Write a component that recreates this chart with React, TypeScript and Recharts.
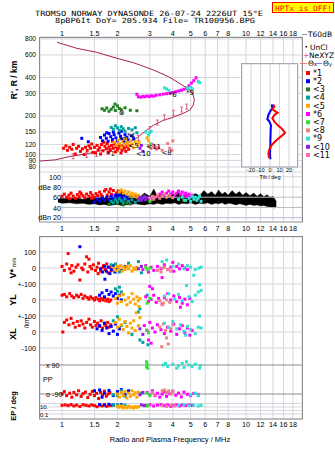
import React from 'react';
import { ScatterChart, ComposedChart, Scatter, Area, XAxis, YAxis, CartesianGrid, ReferenceLine } from 'recharts';

const W = 335;
const H = 451;

const freqTicks = [1, 1.5, 2, 3, 4, 5, 6, 7, 8, 10, 12, 14, 16, 18];
const heightTicks = [80, 90, 100, 120, 150, 200, 300, 400, 600, 800];
const tiltTicks = [-20, -10, 0, 10, 20];
const ampTicks = [20, 40, 60, 80, 100];

const seriesNames = ['*1', '*2', '<3', '<4', '<5', '*6', '<7', '<8', '*9', '<10', '<11'];
const seriesColors = ['#ff0000', '#0000ff', '#208020', '#00a0a0', '#ffa500', '#ff00ff', '#33e033', '#f08080', '#30e0d0', '#9020e0', '#ff69b4'];

// virtual height R' (km) vs frequency (MHz), one list per echo class
const echoHeight: number[][][] = [
  [[1.02, 112], [1.05, 117], [1.07, 108], [1.1, 114], [1.13, 110], [1.15, 120], [1.18, 101], [1.2, 112], [1.23, 116], [1.26, 106], [1.29, 111], [1.32, 100], [1.34, 114], [1.37, 108], [1.4, 117], [1.43, 112], [1.45, 121], [1.47, 104], [1.5, 114], [1.52, 103], [1.55, 118], [1.57, 109], [1.6, 113], [1.62, 101], [1.64, 120], [1.67, 107], [1.69, 125], [1.71, 116], [1.74, 111], [1.76, 122], [1.78, 104], [1.8, 115], [1.83, 108], [1.86, 118], [1.88, 127], [1.9, 112], [1.93, 121], [1.95, 105], [1.97, 115], [2.0, 110], [2.03, 119], [2.06, 113], [2.09, 103], [2.12, 108], [2.15, 117], [2.18, 112], [2.22, 106], [2.26, 115], [2.3, 110], [2.34, 118]],
  [[1.28, 134], [1.39, 126], [1.62, 136], [1.66, 128], [1.7, 142], [1.74, 134], [1.75, 148], [1.78, 127], [1.8, 146], [1.84, 138], [1.88, 131], [1.9, 150], [1.92, 143], [1.96, 135], [2.0, 128], [2.04, 147], [2.08, 139], [2.1, 152], [2.12, 132], [2.16, 126], [2.2, 143], [2.25, 136], [2.3, 130], [2.38, 140], [2.45, 133]],
  [[1.65, 228], [1.7, 222], [1.75, 231], [1.8, 218], [1.85, 226], [1.9, 235], [1.94, 248], [1.95, 221], [2.0, 240], [2.05, 229], [2.1, 224], [2.2, 232], [2.35, 222], [2.55, 220]],
  [[1.85, 163], [1.9, 158], [1.95, 168], [2.0, 162], [2.05, 155], [2.1, 165], [2.15, 159], [2.2, 152], [2.3, 160], [2.4, 156], [2.5, 162], [2.55, 148]],
  [[1.92, 125], [1.98, 118], [2.02, 130], [2.06, 122], [2.1, 114], [2.14, 127], [2.18, 120], [2.22, 133], [2.26, 124], [2.3, 117], [2.35, 128], [2.4, 121], [2.45, 113], [2.5, 126], [2.58, 119], [2.62, 124], [2.9, 135], [2.95, 128]],
  [[2.55, 296], [2.6, 283], [2.68, 281], [2.75, 285], [2.82, 283], [2.9, 287], [2.98, 284], [3.05, 288], [3.15, 286], [3.25, 291], [3.4, 293], [3.55, 297], [3.7, 299], [3.85, 302], [4.0, 306], [4.15, 310], [4.3, 314], [4.45, 318], [4.6, 324], [4.75, 330], [4.9, 345], [5.05, 362], [5.2, 378], [5.35, 398]],
  [[3.0, 117], [3.05, 121]],
  [[2.95, 118], [3.05, 112], [3.15, 116], [3.25, 110], [3.35, 114], [3.5, 108], [3.75, 122], [3.85, 112], [3.95, 108], [4.0, 128]],
  [[2.85, 150], [2.95, 142], [3.0, 148], [3.05, 152], [3.6, 332], [3.7, 326], [3.8, 318], [4.8, 330], [5.0, 336], [5.1, 326], [5.5, 372], [5.6, 365]],
  [[2.65, 112], [2.7, 118], [2.75, 106]],
  [[3.1, 120], [3.2, 116], [3.3, 112]],
];

// echo amplitude (dB) vs frequency
const echoAmp: number[][][] = [
  [[1.0, 62], [1.03, 66], [1.06, 60], [1.09, 64], [1.1, 57], [1.12, 68], [1.15, 62], [1.18, 58], [1.21, 65], [1.24, 61], [1.25, 70], [1.27, 67], [1.3, 63], [1.33, 59], [1.36, 66], [1.4, 62], [1.43, 69], [1.45, 58], [1.46, 64], [1.5, 60], [1.53, 67], [1.56, 63], [1.6, 70], [1.63, 65], [1.66, 61], [1.7, 72], [1.73, 75], [1.76, 64], [1.8, 70], [1.83, 76], [1.86, 66], [1.9, 73], [1.94, 63], [1.98, 68], [2.02, 72]],
  [[1.5, 50], [1.55, 56], [1.6, 52], [1.65, 58], [1.7, 54], [1.75, 60], [1.8, 55], [1.85, 62], [1.9, 57], [1.95, 64], [2.0, 59], [2.05, 66], [2.1, 61], [2.15, 56], [2.2, 63], [2.25, 58], [2.3, 54]],
  [[1.8, 46], [2.0, 48], [2.15, 45], [2.25, 49], [2.35, 47]],
  [[1.85, 52], [1.9, 49], [1.95, 55], [2.0, 51], [2.05, 57], [2.1, 53], [2.15, 50], [2.2, 56], [2.3, 52], [2.4, 55], [2.5, 50], [2.6, 54]],
  [[2.05, 70], [2.1, 74], [2.15, 68], [2.2, 72], [2.25, 66], [2.3, 70], [2.35, 64], [2.4, 68], [2.45, 62], [2.5, 66], [2.55, 60], [2.6, 64]],
  [[3.3, 62], [3.4, 66], [3.5, 70], [3.6, 64], [3.7, 68], [3.8, 72], [3.9, 66], [4.0, 70], [4.1, 64], [4.2, 68], [4.3, 72], [4.4, 66], [4.5, 70], [4.6, 64], [4.7, 68], [4.8, 62], [4.9, 66], [5.0, 60], [5.1, 64]],
  [[3.0, 52], [3.05, 55], [4.6, 54]],
  [[3.2, 60], [3.3, 64], [3.4, 58], [3.5, 62], [3.6, 66], [3.7, 60], [3.85, 63], [4.0, 59]],
  [[4.3, 56], [4.5, 60], [4.7, 54], [4.9, 58], [5.0, 52], [5.1, 62], [5.2, 56], [5.3, 60], [5.4, 54], [5.5, 58], [5.6, 62], [5.7, 52]],
  [[2.6, 56], [2.65, 60], [2.7, 54], [2.75, 58], [2.8, 62], [2.85, 55], [2.9, 59]],
  [[3.0, 58], [3.1, 62], [3.15, 56]],
];

// background noise band: [freq, low dB, high dB]
const noiseBand = [
  [0.95, 50, 56], [1.0, 48, 58], [1.1, 49, 57], [1.2, 47, 59], [1.3, 48, 56], [1.4, 46, 60], [1.5, 47, 58], [1.6, 45, 61], [1.7, 46, 59], [1.8, 44, 62], [1.9, 45, 60], [2.0, 46, 66], [2.1, 44, 72], [2.2, 45, 64], [2.35, 46, 62], [2.5, 47, 65], [2.65, 46, 60], [2.8, 45, 68], [3.0, 47, 62], [3.15, 46, 76], [3.3, 48, 63], [3.5, 46, 66], [3.7, 48, 61], [3.9, 47, 68], [4.1, 49, 64], [4.3, 46, 70], [4.5, 48, 62], [4.8, 47, 66], [5.0, 49, 61], [5.3, 46, 67], [5.6, 48, 63], [5.9, 47, 73], [6.2, 49, 66], [6.5, 46, 71], [6.8, 48, 64], [7.1, 47, 74], [7.4, 49, 66], [7.7, 46, 70], [8.0, 48, 64], [8.4, 47, 73], [8.8, 45, 66], [9.2, 47, 71], [9.6, 46, 64], [10.0, 44, 69], [10.5, 46, 63], [11.0, 44, 68], [11.5, 45, 62], [12.0, 43, 67], [12.5, 44, 61], [13.0, 42, 65], [13.5, 41, 60], [14.0, 40, 62], [14.3, 39, 57], [14.6, 40, 52],
];

// V* (m/s)
const echoVstar: number[][][] = [
  [[1.0, 10], [1.03, -15], [1.06, 25], [1.08, 90], [1.1, -5], [1.12, -30], [1.13, 15], [1.16, -20], [1.19, 5], [1.22, 20], [1.25, -75], [1.28, 0], [1.3, -10], [1.33, 25], [1.36, 70], [1.38, -25], [1.4, 55], [1.42, 10], [1.45, -5], [1.48, 20], [1.52, -15], [1.55, 5], [1.57, -35], [1.58, 30], [1.62, -20], [1.65, 0], [1.68, 15], [1.72, -10], [1.75, 25], [1.78, -30], [1.82, 5], [1.85, -15]],
  [[1.25, 133], [1.62, -5], [1.66, -25], [1.7, 10], [1.74, -20], [1.78, 5], [1.82, -35], [1.86, -10], [1.9, 15], [1.94, -25], [2.0, 0], [2.1, -15], [2.2, 10]],
  [],
  [[1.85, 20], [1.95, 25], [2.05, -25], [2.3, 30], [2.6, 40], [2.7, -30]],
  [[1.92, 0], [1.96, -15], [2.0, 10], [2.04, -5], [2.08, 15], [2.12, -20], [2.16, 5], [2.2, -10], [2.25, 10], [2.3, -5], [2.35, 15], [2.4, -20], [2.45, 0], [2.5, -10], [2.55, 5]],
  [[2.75, -10], [2.85, 15], [2.95, -25], [3.05, 5], [3.15, -15], [3.3, 10], [3.45, -5], [3.5, -60], [3.6, 20], [3.75, -10], [3.9, 5], [4.0, 35], [4.05, -20], [4.2, 10], [4.35, -5], [4.5, 15], [4.65, 0], [4.8, -10]],
  [[2.85, 5], [2.9, -10], [3.0, 0]],
  [[3.3, -15], [3.45, -25], [3.5, 0], [3.6, 5], [3.75, -10], [3.9, -20]],
  [[3.5, 40], [3.7, 50], [4.0, 10], [4.3, 25], [4.6, -5], [4.8, 15], [5.0, 5], [5.2, -45], [5.3, -10], [5.55, 0], [5.7, 5]],
  [[2.6, -5], [2.7, 10]],
  [],
];

// YL (/km)
const echoYL: number[][][] = [
  [[1.0, 30], [1.03, 35], [1.06, 20], [1.1, 40], [1.13, 25], [1.16, 15], [1.2, 30], [1.23, 20], [1.27, 35], [1.3, 10], [1.33, 25], [1.37, 15], [1.4, 5], [1.43, 20], [1.47, 10], [1.5, 0], [1.53, 15], [1.57, 5], [1.6, -5], [1.63, 10], [1.67, 0], [1.7, 15], [1.73, -5], [1.77, 5], [1.8, -10], [1.84, 0]],
  [[1.71, 130], [1.6, 30], [1.65, 45], [1.7, 20], [1.75, 60], [1.8, 35], [1.85, 50], [1.9, 25], [1.95, 40], [2.0, 10], [2.05, 30], [2.1, 0]],
  [],
  [[1.95, 70], [2.0, 55], [2.05, 80], [2.1, 50], [2.6, -75], [2.65, -55], [2.9, 30]],
  [[1.95, 10], [2.0, -20], [2.05, 25], [2.1, -10], [2.15, 35], [2.2, 0], [2.25, -30], [2.3, 15], [2.35, -15], [2.4, 40], [2.45, 5], [2.5, -25], [2.55, 20], [2.6, -5], [2.62, -40], [2.65, 10]],
  [[2.85, 20], [2.95, -10], [3.0, 85], [3.05, 5], [3.1, 70], [3.15, 30], [3.25, -15], [3.35, 10], [3.5, -25], [3.6, 15], [3.75, 40], [3.9, 0], [4.05, 25], [4.2, -10], [4.35, 15], [4.4, -45], [4.5, -20], [4.65, 5], [4.8, -30], [4.95, 10]],
  [[2.9, -20], [3.0, 10]],
  [[3.4, -5], [3.5, -30], [3.55, -20], [3.7, 0], [3.85, -15]],
  [[3.6, 25], [3.8, 40], [4.1, 5], [4.3, 35], [4.5, -5], [4.75, 90], [4.9, 20], [5.1, -10], [5.3, 30], [5.5, 50], [5.6, 95], [5.7, 60]],
  [],
  [],
];

// XL (/km)
const echoXL: number[][][] = [
  [[1.01, 0], [1.03, 60], [1.06, 75], [1.09, 45], [1.12, 85], [1.15, 55], [1.18, 30], [1.21, 65], [1.24, 40], [1.27, 70], [1.3, 50], [1.33, 25], [1.36, 60], [1.4, 80], [1.43, 45], [1.46, 30], [1.5, 65], [1.53, 40], [1.56, 55], [1.6, 35], [1.63, 70], [1.66, 25], [1.7, 50], [1.73, 40], [1.77, 60], [1.8, 30], [1.84, 45]],
  [[1.55, 20], [1.6, 40], [1.65, 10], [1.7, 55], [1.75, 25], [1.8, -10], [1.85, 35], [1.9, 5], [1.95, 50], [2.0, -15], [2.05, 20]],
  [],
  [[1.9, 70], [2.0, 95], [2.1, 40], [2.2, 60], [2.4, -15], [2.65, -50], [2.75, -65], [2.93, -80]],
  [[1.95, 60], [2.0, 30], [2.05, 80], [2.1, 45], [2.15, 15], [2.2, 65], [2.25, 35], [2.3, -5], [2.35, 55], [2.4, 25], [2.45, 70], [2.5, 10], [2.53, 120], [2.6, 40], [2.65, 90]],
  [[2.8, 40], [2.9, 10], [2.95, -50], [3.0, 60], [3.05, -70], [3.1, 25], [3.2, 0], [3.3, 45], [3.45, 15], [3.6, -10], [3.75, 30], [3.9, 5], [4.05, 50], [4.2, -15], [4.35, 20], [4.5, 40], [4.65, -5], [4.8, 25], [4.95, -20], [5.1, 10]],
  [[2.88, 12], [2.95, -5]],
  [[3.4, 30], [3.48, -92], [3.55, 50], [3.65, 10], [3.7, -37], [3.78, -75], [3.9, 20], [4.0, 45]],
  [[3.6, 55], [3.8, 30], [4.0, 65], [4.2, 20], [4.4, 45], [4.6, 5], [4.7, -20], [4.8, 35], [5.0, 15], [5.3, -10], [5.5, 30], [5.6, 100], [5.7, 25]],
  [[2.65, 20], [2.75, -15]],
  [],
];

// x-mode polarization (deg)
const echoX90: number[][][] = [
  [], [], [], [], [], [],
  [[2.88, 80], [2.9, 95], [2.88, 110], [2.92, 70]],
  [],
  [[3.55, 90], [3.65, 100], [3.75, 80], [4.0, 95], [4.2, 70], [4.3, 85], [4.5, 100], [4.6, 75], [4.75, 110], [4.9, 90], [5.1, 80], [5.3, 95], [5.6, 70], [5.65, 88]],
  [], [],
];

// o-mode polarization (deg)
const echoPP: number[][][] = [
  [[1.0, -90], [1.03, -75], [1.06, -100], [1.1, -85], [1.13, -110], [1.16, -80], [1.2, -95], [1.23, -70], [1.27, -105], [1.3, -88], [1.34, -78], [1.38, -112], [1.42, -92], [1.46, -74], [1.5, -100], [1.54, -86], [1.58, -118], [1.62, -80], [1.66, -96], [1.7, -72], [1.74, -104], [1.78, -90], [1.82, -82]],
  [[1.5, -70], [1.6, -65], [1.65, -110], [1.7, -85], [1.8, -68], [1.9, -100], [2.0, -75], [2.1, -62], [2.2, -95], [2.3, -70]],
  [],
  [[1.9, -95], [2.0, -100], [2.1, -68], [2.2, -105], [2.7, -85]],
  [[2.0, -90], [2.05, -110], [2.1, -80], [2.15, -100], [2.2, -75], [2.25, -115], [2.3, -85], [2.35, -105], [2.4, -70], [2.45, -95], [2.5, -82], [2.55, -110], [2.6, -78]],
  [[2.9, -80], [3.0, -95], [3.1, -70], [3.2, -100], [3.3, -85], [3.4, -110], [3.5, -90], [3.6, -75], [3.7, -105], [3.85, -88], [4.0, -72], [4.15, -98], [4.3, -84], [4.45, -108], [4.6, -78], [4.8, -92], [5.0, -100], [5.2, -86], [5.5, -95]],
  [[2.9, -85], [3.0, -100]],
  [[3.5, -70], [3.6, -65], [3.7, -80], [3.8, -70], [3.9, -90], [4.0, -75]],
  [[5.0, -95], [5.3, -85], [5.5, -100]],
  [[2.65, -95], [2.75, -80]],
  [[3.1, -80], [3.2, -95]],
];

// EP (deg)
const echoEP: number[][][] = [
  [[1.0, 30], [1.04, 40], [1.08, 25], [1.12, 50], [1.16, 20], [1.2, 35], [1.25, 15], [1.3, 45], [1.35, 30], [1.4, 20], [1.45, 40], [1.5, 25], [1.55, 12], [1.6, 35], [1.65, 20], [1.7, 45], [1.75, 15], [1.8, 30], [1.85, 25]],
  [[1.6, 50], [1.7, 35], [1.8, 60], [1.9, 40], [2.0, 25], [2.1, 45]],
  [],
  [[1.9, 30], [2.0, 45], [2.1, 20], [2.2, 35]],
  [[2.0, 15], [2.05, 8], [2.1, 20], [2.15, 5], [2.2, 12], [2.25, 6], [2.3, 18], [2.35, 7], [2.4, 10], [2.45, 5], [2.5, 14], [2.55, 8], [2.6, 12]],
  [[2.85, 30], [3.0, 45], [3.15, 20], [3.3, 35], [3.45, 50], [3.6, 25], [3.75, 40], [3.9, 15], [4.05, 30], [4.2, 45], [4.35, 20], [4.5, 35], [4.7, 25], [4.9, 40], [5.1, 30]],
  [[2.9, 20], [2.95, 35]],
  [[3.5, 25], [3.7, 15], [3.9, 35], [4.1, 20]],
  [[4.3, 30], [4.6, 40], [4.9, 25], [5.2, 35], [5.5, 20], [5.7, 30]],
  [[2.7, 40], [2.8, 25]],
  [],
];

// true height profile (freq, km)
const profile = [
  [0.76, 89], [0.92, 91], [1.08, 96], [1.39, 102], [1.86, 112], [2.2, 120], [2.5, 132], [2.83, 152], [3.15, 170], [3.55, 185], [4.03, 196], [4.56, 210], [4.96, 223], [5.17, 244], [5.24, 270], [5.15, 295], [4.96, 320], [4.38, 358], [3.8, 405], [3.14, 458], [2.65, 501], [2.44, 522], [1.98, 566], [1.54, 630], [1.2, 677], [0.94, 754],
];
const neXYZ = [
  [1.15, 97], [1.36, 99], [1.54, 101], [1.78, 105], [2.0, 110], [2.25, 119], [2.6, 135], [3.0, 158], [3.3, 178], [3.6, 195], [4.03, 212], [4.47, 225], [4.76, 237],
];
const echoTags = [
  { f: 1.82, h: 102, t: '*1' }, { f: 2.12, h: 133, t: '*2' }, { f: 2.34, h: 143, t: '*4' }, { f: 2.38, h: 118, t: '<5' },
  { f: 2.11, h: 214, t: '⊗' }, { f: 2.62, h: 103, t: '<10' }, { f: 2.98, h: 116, t: '<11' }, { f: 3.6, h: 104, t: '<8' },
  { f: 3.95, h: 296, t: '*6' }, { f: 4.9, h: 310, t: '*9' },
];

// tilt (deg, km)
const tiltX = [[3.5, 247], [4.6, 237], [2.5, 226], [8, 212], [4.6, 204], [2.5, 192], [4.6, 181], [8, 170], [12.3, 160], [15.8, 148], [12.3, 140], [7, 130], [1.8, 119], [-0.7, 110], [-1.7, 102], [-1, 94]];
const tiltY = [[1.8, 247], [2.5, 230], [0, 216], [-1.7, 204], [-2.8, 189], [-0.7, 181], [1, 170], [0.7, 151], [0.4, 130], [0.4, 115], [0, 102], [0.4, 92]];

// lower panel rows share one pixel-like axis (0..182)
const vRow = (v: number) => 151 + v * 0.16;
const ylRow = (v: number) => 119 + v * 0.16;
const xlRow = (v: number) => 87 + v * 0.16;
const x90Row = (v: number) => 54 + (v - 90) * 0.16;
const ppRow = (v: number) => 25 + (v + 90) * 0.16;
const epRow = (v: number) => 12 + (Math.log10(v) - 1) * 3.5;

const lowerTicks = [
  { u: vRow(100), label: '100' }, { u: vRow(0), label: '0' }, { u: vRow(-100), label: '+-100' },
  { u: ylRow(0), label: '0' }, { u: ylRow(-100), label: '+-100' }, { u: xlRow(0), label: '0' },
  { u: xlRow(-100), label: '-100' }, { u: epRow(100), label: '' }, { u: epRow(10), label: '' },
  { u: epRow(1), label: '' }, { u: epRow(0.1), label: '' },
];

const pts = (arr: number[][]) => arr.map(([x, y]) => ({ x, y }));
const rowPts = (arr: number[][], fn: (v: number) => number) => arr.map(([x, y]) => ({ x, y: fn(y) }));

const Square = (props: any) => {
  const { cx, cy, fill } = props;
  if (cx == null || cy == null) return <g />;
  return <rect x={cx - 1.5} y={cy - 1.5} width={3} height={3} fill={fill} />;
};
const NoDot = () => <g />;
const IBeam = (props: any) => {
  const { cx, cy } = props;
  return (
    <g stroke="#e0608c" strokeWidth={1}>
      <line x1={cx} y1={cy - 2.5} x2={cx} y2={cy + 2.5} />
      <line x1={cx - 1.5} y1={cy - 2.5} x2={cx + 1.5} y2={cy - 2.5} />
      <line x1={cx - 1.5} y1={cy + 2.5} x2={cx + 1.5} y2={cy + 2.5} />
    </g>
  );
};
const Tag = (props: any) => (
  <text x={props.cx - 3} y={props.cy + 3} fontSize={7} fontFamily="DejaVu Sans" fill="#000">{props.payload.t}</text>
);

const tickFont = { fontSize: 7.2, fill: '#000', fontFamily: 'Liberation Sans, Arial, sans-serif' };
const gridColor = '#d6d6de';
const freqDomain = [0.759, 20.15];
const abs = (l: number, t: number): React.CSSProperties => ({ position: 'absolute', left: l, top: t });

export default function App() {
  return (
    <div style={{ position: 'absolute', left: 0, top: 0, width: W, height: H, background: '#fff', overflow: 'hidden' }}>
      {/* amplitude panel */}
      <div style={abs(0, 0)}>
        <ComposedChart width={W} height={H} data={noiseBand.map(([x, lo, hi]) => ({ x, y: [lo, hi] }))} margin={{ top: 172, right: 33, bottom: 215, left: 40 }}>
          <CartesianGrid stroke={gridColor} horizontal={false} />
          <XAxis type="number" dataKey="x" scale="log" domain={freqDomain} allowDataOverflow ticks={freqTicks} interval={0} height={14} axisLine={false} tickLine={false} tickSize={0} tickMargin={4} tick={tickFont} />
          <YAxis type="number" dataKey="y" domain={[11.6, 109.2]} allowDataOverflow hide />
          {ampTicks.map((a) => (
            <ReferenceLine key={a} segment={[{ x: 0.985, y: a }, { x: 20.15, y: a }]} stroke={a === 20 ? '#b4b4e6' : a <= 60 ? '#b8b8c0' : gridColor} />
          ))}
          <Area dataKey="y" type="linear" stroke="#000" strokeWidth={0.4} fill="#000" fillOpacity={1} dot={false} activeDot={false} isAnimationActive={false} />
          {echoAmp.map((s, i) => (
            <Scatter key={i} data={pts(s)} fill={seriesColors[i]} shape={Square} isAnimationActive={false} />
          ))}
        </ComposedChart>
      </div>

      {/* lower panel */}
      <div style={abs(0, 0)}>
        <ScatterChart width={W} height={H} margin={{ top: 237, right: 33, bottom: 18, left: 0 }}>
          <CartesianGrid stroke={gridColor} />
          <XAxis type="number" dataKey="x" scale="log" domain={freqDomain} allowDataOverflow ticks={freqTicks} interval={0} height={14} axisLine={false} tickLine={false} tickSize={0} tickMargin={3} tick={tickFont} />
          <YAxis type="number" dataKey="y" domain={[0, 182]} allowDataOverflow ticks={lowerTicks.map((t) => t.u)} interval={0} width={40} axisLine={false} tickLine={false} tickSize={0} tickMargin={4} tick={tickFont}
            tickFormatter={(v: number) => lowerTicks.find((t) => Math.abs(t.u - v) < 0.01)?.label ?? ''} />
          <ReferenceLine y={x90Row(90)} stroke="#8c8c8c" />
          <ReferenceLine y={ppRow(-90)} stroke="#8c8c8c" />
          {seriesColors.map((c, i) => (
            <React.Fragment key={i}>
              <Scatter data={rowPts(echoVstar[i], vRow)} fill={c} shape={Square} isAnimationActive={false} />
              <Scatter data={rowPts(echoYL[i], ylRow)} fill={c} shape={Square} isAnimationActive={false} />
              <Scatter data={rowPts(echoXL[i], xlRow)} fill={c} shape={Square} isAnimationActive={false} />
              <Scatter data={rowPts(echoX90[i], x90Row)} fill={c} shape={Square} isAnimationActive={false} />
              <Scatter data={rowPts(echoPP[i], ppRow)} fill={c} shape={Square} isAnimationActive={false} />
              <Scatter data={rowPts(echoEP[i], epRow)} fill={c} shape={Square} isAnimationActive={false} />
            </React.Fragment>
          ))}
        </ScatterChart>
      </div>

      {/* height panel */}
      <div style={abs(0, 0)}>
        <ScatterChart width={W} height={H} margin={{ top: 27, right: 33, bottom: 279, left: 0 }}>
          <CartesianGrid stroke={gridColor} />
          <XAxis type="number" dataKey="x" scale="log" domain={freqDomain} allowDataOverflow ticks={freqTicks} interval={0} orientation="top" height={10} axisLine={false} tickLine={false} tickSize={0} tickMargin={1} tick={tickFont} />
          <YAxis type="number" dataKey="y" scale="log" domain={[73.1, 829]} allowDataOverflow ticks={heightTicks} interval={0} width={40} axisLine={false} tickLine={false} tickSize={0} tickMargin={4} tick={{ ...tickFont, fontSize: 6.6 }} />
          <Scatter data={pts(profile)} fill="#a82050" line={{ stroke: '#a82050', strokeWidth: 1 }} lineType="joint" shape={NoDot} isAnimationActive={false} />
          <Scatter data={pts(neXYZ)} fill="#e0608c" shape={IBeam} isAnimationActive={false} />
          {echoHeight.map((s, i) => (
            <Scatter key={i} data={pts(s)} fill={seriesColors[i]} shape={Square} isAnimationActive={false} />
          ))}
          <Scatter data={echoTags.map((e) => ({ x: e.f, y: e.h, t: e.t }))} fill="#000" shape={Tag} isAnimationActive={false} />
        </ScatterChart>
      </div>

      {/* tilt inset */}
      <div style={{ ...abs(242, 64), width: 56, height: 103, background: '#fff' }} />
      <div style={abs(0, 0)}>
        <ScatterChart width={W} height={H} margin={{ top: 64, right: 37, bottom: 276, left: 242 }}>
          <CartesianGrid stroke={gridColor} />
          <XAxis type="number" dataKey="x" domain={[-29.5, 29.5]} allowDataOverflow ticks={tiltTicks} interval={0} height={8} axisLine={false} tickLine={false} tickSize={0} tickMargin={1} tick={{ ...tickFont, fontSize: 5.5 }} />
          <YAxis type="number" dataKey="y" scale="log" domain={[80, 510]} allowDataOverflow ticks={heightTicks} width={0} tick={false} axisLine={false} tickLine={false} />
          <Scatter data={pts(tiltY)} fill="#0000ff" line={{ stroke: '#0000ff', strokeWidth: 2 }} lineType="joint" shape={NoDot} isAnimationActive={false} />
          <Scatter data={pts(tiltX)} fill="#ff0000" line={{ stroke: '#ff0000', strokeWidth: 2 }} lineType="joint" shape={NoDot} isAnimationActive={false} />
        </ScatterChart>
      </div>

      {/* titles, frames, legend */}
      <svg width={W} height={H} style={abs(0, 0)}>
        <g fontFamily="DejaVu Sans Mono, monospace" fontSize={7.2} fill="#000">
          <text x={35} y={15.5} textLength={228} lengthAdjust="spacingAndGlyphs">TROMSO NORWAY   DYNASONDE 26-07-24 2226UT 15°E</text>
          <text x={55} y={23} textLength={200} lengthAdjust="spacingAndGlyphs">8pBP6It DoY= 205.934 File= TR100956.BPG</text>
        </g>
        <rect x={272.5} y={2.5} width={61} height={10} fill="#ffff00" stroke="#ff0000" />
        <text x={275} y={10.5} fontFamily="DejaVu Sans Mono, monospace" fontSize={7.5} fill="#ff0000" textLength={57} lengthAdjust="spacingAndGlyphs">HPTx is OFF!</text>

        <rect x={39.5} y={37.5} width={263} height={184.5} fill="none" stroke="#8c8c8c" />
        <rect x={39.5} y={236.5} width={263} height={182.5} fill="none" stroke="#8c8c8c" />
        <rect x={241.5} y={63.5} width={56} height={103.5} fill="none" stroke="#a8a8b4" />

        <g fontFamily="Liberation Sans, Arial, sans-serif" fontSize={7.2} fill="#000" textAnchor="end">
          <text x={61} y={179.5}>100</text>
          <text x={61} y={189.5}>dBe 80</text>
          <text x={61} y={200}>60</text>
          <text x={61} y={210.5}>40</text>
          <text x={61} y={220}>dBn 20</text>
        </g>
        <g fontFamily="Liberation Sans, Arial, sans-serif" fontSize={7.2} fill="#000">
          <text x={46} y={367.5}>x  90</text>
          <text x={43} y={381.5}>PP</text>
          <text x={46} y={396.5}>o -90</text>
          <text x={40} y={409} fontSize={6}>10.</text>
          <text x={40} y={416.5} fontSize={6}>0.1</text>
          <text x={270} y={178.5} fontSize={5.5} textAnchor="middle">Tilt / deg</text>
          <text x={170} y={442} fontSize={7.5} textAnchor="middle">Radio and Plasma Frequency / MHz</text>
        </g>
        <g fontFamily="Liberation Sans, Arial, sans-serif" fontWeight="bold" fill="#000" textAnchor="middle">
          <text transform="rotate(-90 17 80)" x={17} y={80} fontSize={8.5}>R', R / km</text>
          <text transform="rotate(-90 16 268)" x={16} y={268} fontSize={9}>V*<tspan fontSize={6} fontWeight="normal"> m/s</tspan></text>
          <text transform="rotate(-90 16 300)" x={16} y={300} fontSize={9}>YL</text>
          <text transform="rotate(-90 29 323)" x={29} y={323} fontSize={6.5} fontWeight="normal">/km</text>
          <text transform="rotate(-90 16 334)" x={16} y={334} fontSize={9}>XL</text>
          <text transform="rotate(-90 16 406)" x={16} y={406} fontSize={7.5}>EP / deg</text>
        </g>

        <g fontFamily="DejaVu Sans, sans-serif" fontSize={7.5} fill="#000">
          <line x1={302} y1={34.5} x2={307} y2={34.5} stroke="#909090" />
          <text x={308} y={37}>T60dB</text>
          <rect x={305.5} y={46} width={1.5} height={1.5} fill="#000" />
          <text x={310} y={49.5}>UnCl</text>
          <text x={303} y={57.5} fill="#e0608c">+</text>
          <text x={309} y={57.5}>NeXYZ</text>
          <line x1={300} y1={63.5} x2={307} y2={63.5} stroke="#f08080" />
          <text x={308} y={66}>Θ<tspan fontSize={5}>x</tspan></text>
          <line x1={315} y1={63.5} x2={322} y2={63.5} stroke="#8080ff" />
          <text x={323} y={66}>Θ<tspan fontSize={5}>y</tspan></text>
          {seriesNames.map((n, i) => (
            <g key={n}>
              <rect x={306} y={71 + i * 8.2} width={4} height={4} fill={seriesColors[i]} />
              <text x={313} y={75.8 + i * 8.2} fontSize={8}>{n}</text>
            </g>
          ))}
        </g>
      </svg>
    </div>
  );
}
